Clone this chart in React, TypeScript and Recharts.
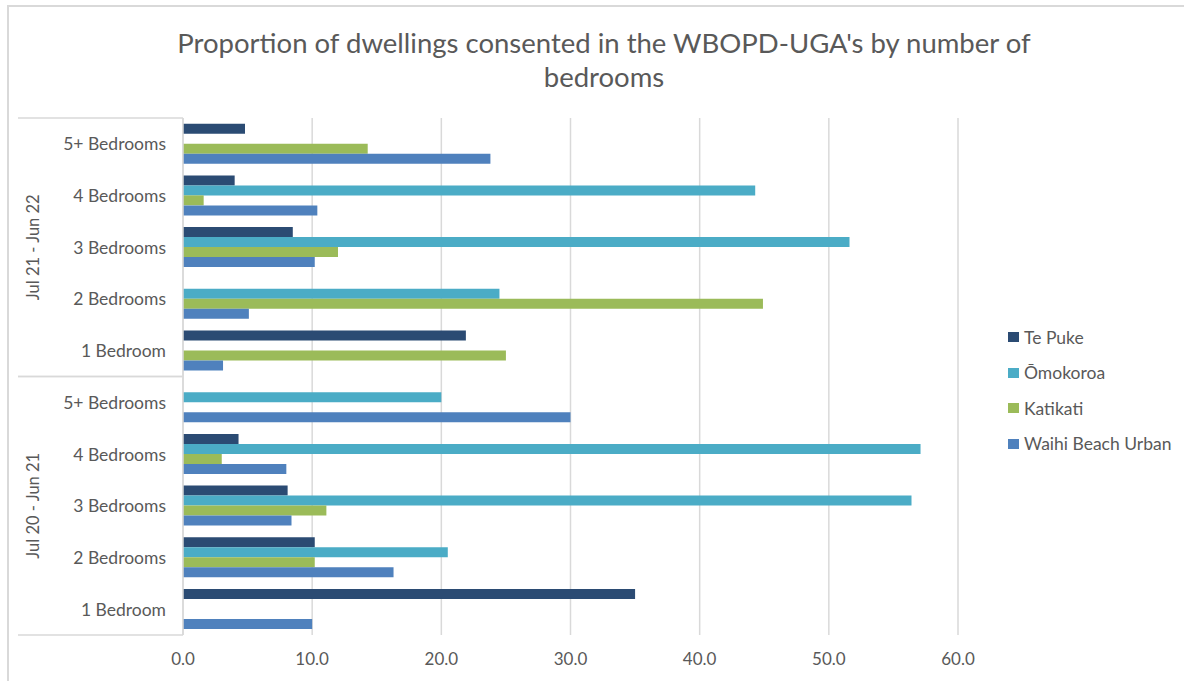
import { Bar, BarChart, CartesianGrid, XAxis, YAxis } from "recharts";

const periods = ["Jul 21 - Jun 22", "Jul 20 - Jun 21"];
const bedrooms = ["5+ Bedrooms", "4 Bedrooms", "3 Bedrooms", "2 Bedrooms", "1 Bedroom"];

// one value per row, rows run top to bottom: period 1 (5+ .. 1), then period 2 (5+ .. 1)
const tePuke = [4.8, 4.0, 8.5, 0, 21.9, 0, 4.3, 8.1, 10.2, 35.0];
const omokoroa = [0, 44.3, 51.6, 24.5, 0, 20.0, 57.1, 56.4, 20.5, 0];
const katikati = [14.3, 1.6, 12.0, 44.9, 25.0, 0, 3.0, 11.1, 10.2, 0];
const waihiBeach = [23.8, 10.4, 10.2, 5.1, 3.1, 30.0, 8.0, 8.4, 16.3, 10.0];

const xTicks = [0, 10, 20, 30, 40, 50, 60];

const series = [
  { key: "tePuke", name: "Te Puke", color: "#2B4B73", values: tePuke },
  { key: "omokoroa", name: "Ōmokoroa", color: "#4BACC6", values: omokoroa },
  { key: "katikati", name: "Katikati", color: "#9BBB59", values: katikati },
  { key: "waihi", name: "Waihi Beach Urban", color: "#4F81BD", values: waihiBeach },
];

const rows = periods.flatMap((period, p) =>
  bedrooms.map((bed, b) => {
    const i = p * bedrooms.length + b;
    const row: Record<string, string | number> = { id: `${p}-${b}`, period, bed };
    series.forEach((s) => {
      row[s.key] = s.values[i];
    });
    return row;
  })
);

const FONT = "Lato, 'Open Sans', sans-serif";
const TEXT = "#595959";
const LINE = "#D9D9D9";

const W = 1184;
const H = 681;
const PLOT_TOP = 118;
const PLOT_BOTTOM = 635;
const BAND = (PLOT_BOTTOM - PLOT_TOP) / rows.length;
const BOX_LEFT = 18;

const CategoryTick = (props: any) => {
  const { x, y, index } = props;
  const row = rows[index];
  if (!row) return null;
  const b = index % bedrooms.length;
  const top = y - BAND / 2;
  const bottom = y + BAND / 2;
  const axisX = x + 8;
  return (
    <g>
      <text
        x={axisX - 17}
        y={y}
        textAnchor="end"
        dominantBaseline="central"
        fill={TEXT}
        fontSize={17.5}
        fontFamily={FONT}
      >
        {row.bed}
      </text>
      {b === 0 && <line x1={BOX_LEFT} x2={axisX} y1={top} y2={top} stroke={LINE} strokeWidth={1.5} />}
      {b === bedrooms.length - 1 && (
        <line x1={BOX_LEFT} x2={axisX} y1={bottom} y2={bottom} stroke={LINE} strokeWidth={1.5} />
      )}
      {b === Math.floor(bedrooms.length / 2) && (
        <text
          x={33}
          y={y}
          transform={`rotate(-90 33 ${y})`}
          textAnchor="middle"
          dominantBaseline="central"
          fill={TEXT}
          fontSize={16.5}
          fontFamily={FONT}
        >
          {row.period}
        </text>
      )}
    </g>
  );
};

const App = () => {
  return (
    <div
      style={{
        position: "absolute",
        left: 0,
        top: 0,
        width: W,
        height: H,
        background: "#fff",
        fontFamily: FONT,
        overflow: "hidden",
      }}
    >
      <div
        style={{
          position: "absolute",
          left: 7,
          top: 5,
          width: W,
          height: H,
          borderLeft: `2px solid ${LINE}`,
          borderTop: `2px solid ${LINE}`,
        }}
      />
      <div
        style={{
          position: "absolute",
          left: 0,
          width: W,
          top: 26,
          textAlign: "center",
          paddingLeft: 24,
          boxSizing: "border-box",
          color: TEXT,
          fontSize: 27.5,
          lineHeight: "34px",
        }}
      >
        Proportion of dwellings consented in the WBOPD-UGA's by number of
        <br />
        bedrooms
      </div>

      <div style={{ position: "absolute", left: 0, top: 0 }}>
        <BarChart
          width={W}
          height={H}
          data={rows}
          layout="vertical"
          margin={{ top: PLOT_TOP, right: 226, left: BOX_LEFT, bottom: 16 }}
          barCategoryGap="11%"
          barGap={0}
        >
          <CartesianGrid horizontal={false} stroke={LINE} strokeWidth={1.5} />
          <XAxis
            type="number"
            domain={[0, 60]}
            ticks={xTicks}
            tickFormatter={(v: number) => v.toFixed(1)}
            axisLine={false}
            tickLine={false}
            tickMargin={12}
            height={30}
            tick={{ fill: TEXT, fontSize: 17, fontFamily: FONT }}
          />
          <YAxis
            type="category"
            dataKey="id"
            width={165}
            axisLine={{ stroke: LINE, strokeWidth: 1.5 }}
            tickLine={false}
            interval={0}
            tick={<CategoryTick />}
          />
          {series.map((s) => (
            <Bar
              key={s.key}
              dataKey={s.key}
              name={s.name}
              fill={s.color}
              isAnimationActive={false}
            />
          ))}
        </BarChart>
      </div>

      <div style={{ position: "absolute", left: 1008, top: 319.5 }}>
        {series.map((s) => (
          <div
            key={s.key}
            style={{
              display: "flex",
              alignItems: "center",
              height: 35.5,
              color: TEXT,
              fontSize: 17.5,
            }}
          >
            <span
              style={{
                display: "inline-block",
                width: 11,
                height: 10,
                background: s.color,
                marginRight: 5,
              }}
            />
            {s.name}
          </div>
        ))}
      </div>
    </div>
  );
};

export default App;
